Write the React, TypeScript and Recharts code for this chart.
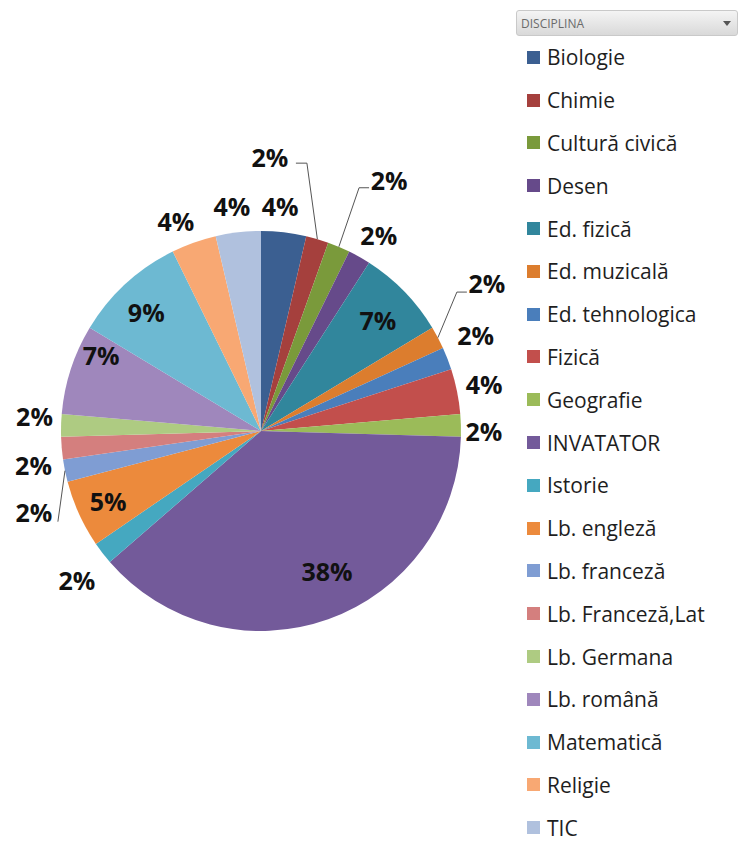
import React from "react";
import { PieChart, Pie, Cell, Legend } from "recharts";

const subjects = [
  "Biologie",
  "Chimie",
  "Cultură civică",
  "Desen",
  "Ed. fizică",
  "Ed. muzicală",
  "Ed. tehnologica",
  "Fizică",
  "Geografie",
  "INVATATOR",
  "Istorie",
  "Lb. engleză",
  "Lb. franceză",
  "Lb. Franceză,Lat",
  "Lb. Germana",
  "Lb. română",
  "Matematică",
  "Religie",
  "TIC",
];

const counts = [2, 1, 1, 1, 4, 1, 1, 2, 1, 21, 1, 3, 1, 1, 1, 4, 5, 2, 2];

const colors = [
  "#3b5f91",
  "#a5403d",
  "#7a9a3b",
  "#664a8a",
  "#31869c",
  "#dc7d2e",
  "#4a7ebb",
  "#c24f4c",
  "#9bbb59",
  "#735a9a",
  "#45a8c0",
  "#ec8a3c",
  "#7f9dd3",
  "#d47f7e",
  "#aecb82",
  "#9f87bc",
  "#6db9d2",
  "#f8a873",
  "#b0c1de",
];

// label placement: clockwise angle shift (deg) and distance from centre (px)
const labelShift = [-1.7, -14.5, 4.1, 1.5, 0.7, -5.4, -2.8, -0.5, 1.6, -5.6, -1.4, 0, -8.1, -3.6, 2.2, 7.4, -1.5, -2.4, -0.8];
const labelDist = [226, 274, 282, 229, 161, 270, 235, 228, 223, 155, 237, 168, 241, 230, 227, 177, 165, 227, 227];

// leader lines: [endDx, endDy, elbowDx] relative to label centre
const leaders: Record<number, [number, number, number]> = {
  1: [26, 6, 11],
  2: [-20, 8, -10],
  5: [-20, 9, -10],
  12: [24, 10, 0],
};

const data = subjects.map((name, i) => ({ name, value: counts[i], fill: colors[i] }));

const RAD = Math.PI / 180;

function renderLabel(props: any) {
  const { cx, cy, midAngle, outerRadius, percent, index } = props;
  const ang = midAngle - labelShift[index];
  const r = labelDist[index];
  const x = cx + r * Math.cos(-ang * RAD);
  const y = cy + r * Math.sin(-ang * RAD);
  const text = `${Math.round(percent * 100)}%`;
  const leader = leaders[index];
  let line = null;
  if (leader) {
    const sx = cx + outerRadius * Math.cos(-midAngle * RAD);
    const sy = cy + outerRadius * Math.sin(-midAngle * RAD);
    const ex = x + leader[0];
    const ey = y + leader[1];
    const bx = ex + leader[2];
    line = (
      <polyline
        points={`${sx},${sy} ${bx},${ey} ${ex},${ey}`}
        fill="none"
        stroke="#555"
        strokeWidth={1}
      />
    );
  }
  return (
    <g>
      {line}
      <text
        x={x}
        y={y}
        textAnchor="middle"
        dominantBaseline="central"
        fontFamily="'Open Sans', sans-serif"
        fontWeight={700}
        fontSize={25}
        fill="#111"
      >
        {text}
      </text>
    </g>
  );
}

function renderLegend(props: any) {
  const payload = props.payload || [];
  // keep the data order (the legend payload comes sorted)
  const items = subjects.map((name, i) => {
    const p = payload.find((e: any) => e.value === name);
    return { name, color: p ? p.color : colors[i] };
  });
  return (
    <div style={{ fontFamily: "'Open Sans', sans-serif" }}>
      <div
        style={{
          height: 26,
          border: "1px solid #c9c9c9",
          borderRadius: 3,
          background: "linear-gradient(#f4f4f4, #d9d9d9)",
          display: "flex",
          alignItems: "center",
          justifyContent: "space-between",
          padding: "0 6px 0 4px",
          fontSize: 12,
          color: "#6a6a6a",
          boxSizing: "border-box",
        }}
      >
        <span>DISCIPLINA</span>
        <svg width={8} height={5}>
          <polygon points="0,0 8,0 4,5" fill="#555" />
        </svg>
      </div>
      {items.map((entry, i) => (
        <div
          key={i}
          style={{
            height: 42.8,
            display: "flex",
            alignItems: "center",
            paddingLeft: 11,
            fontSize: 21,
            lineHeight: "18px",
            color: "#1e1e1e",
            whiteSpace: "nowrap",
          }}
        >
          <span
            style={{
              width: 13,
              height: 13,
              background: entry.color,
              marginRight: 7,
              display: "inline-block",
              flex: "none",
            }}
          />
          {entry.name}
        </div>
      ))}
    </div>
  );
}

export default function App() {
  return (
    <div
      style={{
        position: "absolute",
        left: 0,
        top: 0,
        width: 740,
        height: 841,
        background: "#fff",
        overflow: "hidden",
      }}
    >
      <PieChart width={740} height={841} margin={{ top: 0, right: 0, bottom: 0, left: 0 }}>
        <Pie
          data={data}
          dataKey="value"
          nameKey="name"
          cx={261}
          cy={431}
          outerRadius={200}
          startAngle={90}
          endAngle={-270}
          stroke="none"
          label={renderLabel}
          labelLine={false}
          isAnimationActive={false}
        >
          {data.map((d, i) => (
            <Cell key={i} fill={d.fill} />
          ))}
        </Pie>
        <Legend
          layout="vertical"
          verticalAlign="top"
          align="right"
          content={renderLegend}
          wrapperStyle={{ left: 516, top: 10, width: 222 }}
        />
      </PieChart>
    </div>
  );
}
